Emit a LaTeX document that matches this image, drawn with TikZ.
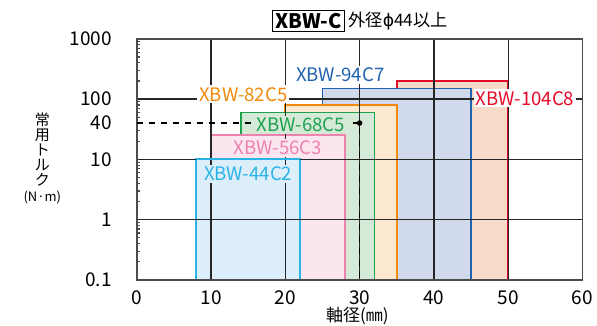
\documentclass[tikz,border=0pt]{standalone}
\usepackage{fontspec}
\setmainfont{Noto Sans CJK JP}
\newfontfamily\symfont{DejaVu Sans}
\usetikzlibrary{positioning}
\definecolor{c44}{HTML}{2AB4E6}
\definecolor{f44}{HTML}{DCEEF9}
\definecolor{c56}{HTML}{EE82AF}
\definecolor{f56}{HTML}{FBE5EF}
\definecolor{c68}{HTML}{1FA04F}
\definecolor{f68}{HTML}{D5EAD6}
\definecolor{c82}{HTML}{F08A0A}
\definecolor{f82}{HTML}{FDE9CF}
\definecolor{c94}{HTML}{2063B2}
\definecolor{f94}{HTML}{D1D9EC}
\definecolor{c104}{HTML}{E60A28}
\definecolor{f104}{HTML}{F8DAC8}
\tikzset{
  gridline/.style={black!85,line width=0.65pt},
  bar/.style 2 args={draw=#1,fill=#2,line width=0.9pt},
  barlabel/.style={font=\fontsize{9.3}{10}\selectfont,inner sep=1pt},
  ticklabel/.style={font=\fontsize{9.5}{11}\selectfont,inner sep=0pt},
}
\begin{document}
\begin{tikzpicture}[x=3.715pt,y=30.15pt]
\useasboundingbox (-18.4,-0.763) rectangle (61.95,4.643);
% bars, back to front
\draw[bar={c104}{f104}] (35,0) rectangle (50,{log10(200)+1});
\draw[bar={c94}{f94}] (25,0) rectangle (45,{log10(150)+1});
\draw[bar={c82}{f82}] (20,0) rectangle (35,{log10(80)+1});
\draw[bar={c68}{f68}] (14,0) rectangle (32,{log10(60)+1});
\draw[bar={c56}{f56}] (10,0) rectangle (28,{log10(25)+1});
\draw[bar={c44}{f44}] (8,0) rectangle (22,2);
% grid and frame
\foreach \gx in {10,20,...,50}
  \draw[gridline] (\gx,0) -- (\gx,4);
\foreach \gy in {1,2,3}
  \draw[gridline] (0,\gy) -- (60,\gy);
\draw[c44,line width=0.9pt] (8,2) -- (22,2);
\foreach \d in {0,1,2,3}
  \foreach \k in {2,...,9}
    \draw[black!70,line width=0.6pt] (0,{\d+log10(\k)}) -- ++(0.45,0);
\draw[black!70,line width=0.9pt] (0,0) rectangle (60,4);
% 30mm / 40Nm
\coordinate (y40) at (0,{log10(40)+1});
\coordinate (x30) at (30,0);
\coordinate (p40) at (30,{log10(40)+1});
\draw[dashed,line width=0.8pt] (y40) -- (p40) -- (x30);
\fill (p40) circle (1.4pt);
% labels
\node[barlabel,text=c44,fill=f44] (l44) at (15,1.758) {XBW-44C2};
\node[barlabel,text=c56,fill=f56] (l56) at (19,2.194) {XBW-56C3};
\node[barlabel,text=c68,fill=f68] (l68) at (22.1,2.57) {XBW-68C5};
\node[barlabel,text=c82,fill=white] (l82) at (14.35,3.08) {XBW-82C5};
\node[barlabel,text=c94,fill=white] (l94) at (27.4,3.40) {XBW-94C7};
\node[barlabel,text=c104,fill=white] (l104) at (52.26,3.013) {XBW-104C8};
% axes
\foreach \v/\yy [count=\i] in {1000/4,100/3,40/2.602,10/2,1/1,0.1/0}
  \node[ticklabel,anchor=east] (yt\i) at (-3.3,\yy) {\v};
\foreach \gx in {0,10,...,60}
  \node[ticklabel] (xt\gx) at (\gx,-0.30) {\gx};
\node[font=\fontsize{8.5}{10}\selectfont,inner sep=0pt] (xlab) at (29.7,-0.60) {軸径(㎜)};
\node[font=\fontsize{7.5}{7.6}\selectfont,align=center,inner sep=0pt] (ylab) at (-12.7,2.02)
  {常\\用\\ト\\ル\\ク\\{\fontsize{6.5}{7}\selectfont(N·m)}};
% title
\node[draw,line width=0.6pt,font=\bfseries\fontsize{10}{12}\selectfont,inner sep=1.5pt] (series) at (23.1,4.295) {XBW-C};
\node[right=1.5pt of series,font=\fontsize{8.6}{11}\selectfont,inner sep=0pt] (spec) {外径{\symfont ϕ}44以上};
\end{tikzpicture}
\end{document}
